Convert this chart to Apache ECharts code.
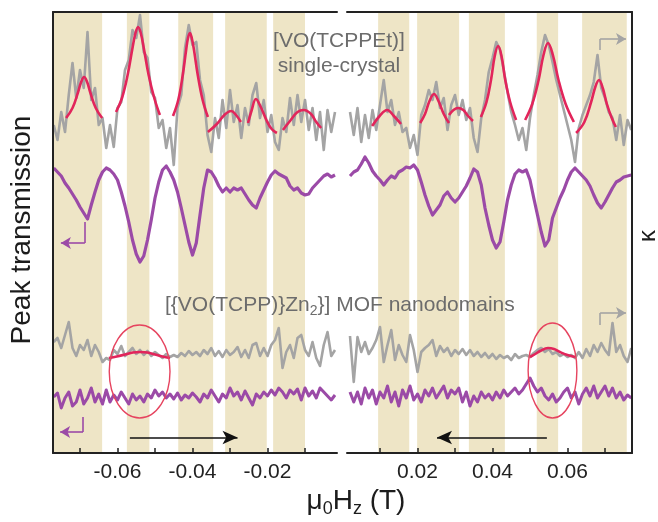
<!DOCTYPE html>
<html>
<head>
<meta charset="utf-8">
<script src="https://cdn.jsdelivr.net/npm/echarts@6/dist/echarts.min.js"></script>
<style>
html,body{margin:0;padding:0;background:#fff;}
#chart{width:658px;height:522px;}
</style>
</head>
<body>
<div id="chart"></div>
<script>
// field axis in mT (labels shown in T), y in arbitrary units
const fieldLeft = [-77,-76,-75,-74,-73,-72,-71,-70,-69,-68,-67,-66,-65,-64,-63,-62,-61,-60,-59,-58,
  -57,-56,-55,-54,-53,-52,-51,-50,-49,-48,-47,-46,-45,-44,-43,-42,-41,-40,-39,-38,
  -37,-36,-35,-34,-33,-32,-31,-30,-29,-28,-27,-26,-25,-24,-23,-22,-21,-20,-19,-18,
  -17,-16,-15,-14,-13,-12,-11,-10,-9,-8,-7,-6,-5,-4,-3,-2];
const fieldRight = [2,3,4,5,6,7,8,9,10,11,12,13,14,15,16,17,18,19,20,21,
  22,23,24,25,26,27,28,29,30,31,32,33,34,35,36,37,38,39,40,41,
  42,43,44,45,46,47,48,49,50,51,52,53,54,55,56,57,58,59,60,61,
  62,63,64,65,66,67,68,69,70,71,72,73,74,75,76,77];

// [VO(TCPPEt)] single crystal
const crystalTransLeft = [375,360,388,368,405,437,402,430,412,468,
  400,412,375,382,352,375,353,392,398,430,
  440,470,462,485,448,442,408,402,372,380,
  352,372,335,392,405,452,475,455,458,420,
  405,365,348,382,362,400,372,410,378,395,
  362,392,375,405,417,382,400,368,385,358,
  350,382,368,402,375,405,378,400,370,392,
  360,388,350,390,368,388];
const crystalTransRight = [388,365,392,358,385,362,390,370,395,420,
  388,400,375,388,368,372,352,365,345,385,
  395,410,400,418,392,402,370,395,405,385,
  400,380,392,362,348,382,400,428,442,458,
  450,430,408,388,375,360,372,350,382,405,
  425,448,465,455,438,420,405,390,375,360,
  338,372,385,395,405,418,445,412,402,388,
  382,360,385,355,380,370];
const crystalKappaLeft = [332,328,324,317,312,306,300,293,287,281,
  295,308,320,328,332,330,326,320,308,294,
  278,260,246,238,244,260,280,302,318,330,
  334,328,320,308,292,275,258,245,257,285,
  312,330,328,322,314,308,312,308,312,310,
  312,306,300,295,292,302,310,318,325,329,
  326,324,322,314,310,312,307,305,306,312,
  316,320,324,326,323,325];
const crystalKappaRight = [324,328,330,336,343,337,329,324,320,315,
  320,324,322,328,330,333,332,335,330,318,
  305,294,285,290,295,304,308,302,298,302,
  308,314,322,331,328,315,292,275,260,252,
  258,278,300,315,326,330,328,330,320,302,
  285,268,254,260,282,292,302,310,320,328,
  332,328,324,320,314,305,297,292,298,305,
  312,318,320,323,324,325];

// [{VO(TCPP)}Zn2}] MOF nanodomains
const mofTransLeft = [158,162,152,165,178,152,144,155,150,160,
  144,155,148,138,142,140,150,146,154,144,
  148,152,146,150,145,149,144,148,145,142,
  146,143,145,143,147,144,149,145,148,144,
  150,146,152,144,149,143,150,145,148,153,
  143,150,142,155,157,144,152,144,155,160,
  172,132,148,155,142,162,165,150,144,158,
  142,134,155,168,144,150];
const mofTransRight = [164,118,163,148,158,146,152,160,173,138,
  155,170,140,155,145,138,165,150,128,148,
  152,155,160,144,154,148,152,144,150,146,
  151,145,150,144,148,143,147,142,146,141,
  145,142,144,140,146,142,144,145,143,147,
  150,152,148,151,146,148,144,146,143,145,
  142,148,142,151,144,155,148,157,150,145,
  177,148,155,144,138,152];
const mofKappaLeft = [103,107,92,102,108,94,98,110,96,102,
  112,98,106,96,110,98,105,100,108,102,
  96,106,100,104,98,106,102,110,104,108,
  102,106,101,107,100,105,102,107,103,98,
  106,102,110,104,98,106,102,112,104,108,
  100,109,102,95,106,102,108,104,110,105,
  112,108,102,110,106,111,100,112,104,109,
  102,112,108,104,100,105];
const mofKappaRight = [108,98,108,96,112,102,110,96,108,102,
  114,98,108,94,110,102,114,100,106,98,
  110,104,112,102,108,114,102,110,106,112,
  98,108,94,104,98,108,102,106,100,108,
  102,110,104,108,112,106,110,116,122,114,
  108,112,104,100,106,98,102,108,112,102,
  108,96,106,112,104,114,102,108,114,104,
  112,102,108,100,105,102];

// fitted peaks [field, value]
const fitPeaksLeft = [
  [[-73.7,382],[-72.0,392],[-70.5,408],[-69.7,418],[-68.9,423],[-68.1,418],[-67.3,408],[-65.8,392],[-64.1,382]],
  [[-60.4,388],[-58.8,402],[-57.3,425],[-56.0,452],[-55.2,467],[-54.5,473],[-53.8,467],[-53.0,452],[-51.7,425],[-50.2,402],[-48.7,385]],
  [[-45.2,384],[-43.8,400],[-42.6,425],[-41.7,450],[-41.2,462],[-40.7,467],[-40.2,462],[-39.6,450],[-38.6,425],[-37.3,400],[-35.9,383]],
  [[-35.9,368],[-33.5,376],[-31.5,385],[-29.7,389],[-28.4,385],[-27.1,378]],
  [[-25.2,377],[-24.2,390],[-23.1,401],[-21.8,393],[-20.3,380],[-18.9,371],[-17.5,367]],
  [[-15.9,370],[-13.8,380],[-12.0,388],[-10.3,390],[-8.4,386],[-7.0,378],[-5.7,372]],
  [[-62.3,142],[-60.2,143.5],[-58.0,145.5],[-55.9,147.5],[-53.9,148],[-52.0,147.5],[-50.0,145.5],[-48.0,143.5],[-46.0,142]]
];
const fitPeaksRight = [
  [[7.9,374],[9.9,384],[11.9,390],[13.7,384],[15.6,376]],
  [[20.7,377],[22.0,386],[23.2,399],[24.4,406],[25.6,399],[27.0,386],[28.4,377]],
  [[28.4,385],[29.6,390],[30.8,392],[32.2,390],[33.5,384],[34.8,379]],
  [[36.9,383],[38.4,398],[39.6,420],[40.6,444],[41.5,454],[42.4,444],[43.4,420],[44.7,398],[46.3,380]],
  [[48.7,380],[50.6,396],[52.3,420],[53.6,445],[54.8,457],[56.1,445],[57.6,420],[59.5,396],[61.7,378]],
  [[62.3,367],[64.5,378],[66.3,398],[67.5,414],[68.4,420],[69.4,412],[70.5,396],[71.8,382],[72.9,373]],
  [[50.0,143],[51.4,146],[52.7,149],[54.8,152],[56.4,151],[58.0,148],[60.0,145],[62.0,143]]
];

// shaded field windows (mT)
const bandsLeft = [[-77.1,-64.1],[-57.5,-51.5],[-43.8,-34.5],[-31.3,-20.2],[-18.5,-10.0]];
const bandsRight = [[9.5,17.8],[19.9,31.1],[33.7,43.3],[51.8,57.5],[63.9,75.8]];

// annotations: ellipse [cx, cy, rx, ry], sweep arrows, axis markers
const circledLeft = [-54.1,128.5,8.1,46.5];
const circledRight = [56.0,129.5,6.5,47.5];
const sweepLeft = [[-56.7,62.5],[-28.0,62.5]];
const sweepRight = [[54.5,62.5],[25.2,62.5]];
const kappaMarkTop = [[-68.7,278],[-68.7,257],[-75.1,257]];
const kappaMarkBottom = [[-69.2,83],[-69.2,68],[-75.3,68]];
const transMarkTop = [[68.7,450],[68.7,461],[75.6,461]];
const transMarkBottom = [[68.7,175],[68.7,187],[75.6,187]];

const ticksLeft = [-70,-60,-50,-40,-30,-20,-10];
const ticksRight = [10,20,30,40,50,60,70];
const labelsLeft = [-60,-40,-20];
const labelsRight = [20,40,60];

const FONT = '"Liberation Sans", Arial, Helvetica, sans-serif';
const GRAY = '#a4a4a4';
const PURPLE = '#9b4aa7';
const RED = '#e2255b';
const TAN = '#eee5c6';
const INK = '#222';

const pairs = (xs, ys) => xs.map((x, i) => [x, ys[i]]);

const bottomAxis = (gridIndex, min, max, ticks, labels) => ({
  type: 'value', gridIndex, min, max, position: 'bottom', z: 10,
  splitLine: { show: false },
  axisLine: { show: true, onZero: false, lineStyle: { color: INK, width: 2 } },
  axisTick: { show: true, inside: true, length: 5, customValues: ticks, lineStyle: { color: INK, width: 1.5 } },
  axisLabel: { show: true, customValues: labels, formatter: (v) => (v / 1000).toFixed(2),
    color: INK, fontSize: 21, fontFamily: FONT, margin: 9 }
});
const topAxis = (gridIndex, min, max) => ({
  type: 'value', gridIndex, min, max, position: 'top', z: 10,
  splitLine: { show: false }, axisTick: { show: false }, axisLabel: { show: false },
  axisLine: { show: true, onZero: false, lineStyle: { color: INK, width: 2 } }
});
const sideAxis = (gridIndex, position) => ({
  type: 'value', gridIndex, min: 47, max: 488, position, z: 10,
  splitLine: { show: false }, axisTick: { show: false }, axisLabel: { show: false },
  axisLine: { show: true, onZero: false, lineStyle: { color: INK, width: 2 } }
});

const trace = (name, idx, data, color, width) => ({
  name, type: 'line', xAxisIndex: idx * 2, yAxisIndex: idx, data,
  showSymbol: false, symbol: 'none', z: 3, silent: true,
  lineStyle: { color, width, join: 'round' }
});

const bentArrow = (pts, color) => [
  [{ coord: pts[0], lineStyle: { color, width: 1.6, type: 'solid' } }, { coord: pts[1] }],
  [{ coord: pts[1], lineStyle: { color, width: 1.6, type: 'solid' } }, { coord: pts[2], symbol: 'arrow', symbolSize: [9, 10] }]
];
const markLines = (data) => ({
  silent: true, animation: false, symbol: ['none', 'none'], label: { show: false },
  lineStyle: { type: 'solid' }, emphasis: { disabled: true }, data
});

const ellipseSeries = (idx, ell) => ({
  type: 'custom', xAxisIndex: idx * 2, yAxisIndex: idx, z: 6, silent: true,
  data: [ell],
  renderItem: (params, api) => {
    const c = api.coord([api.value(0), api.value(1)]);
    const s = api.size([api.value(2), api.value(3)]);
    return { type: 'ellipse', shape: { cx: c[0], cy: c[1], rx: s[0], ry: s[1] },
      style: { fill: null, stroke: '#e6445f', lineWidth: 1.4 } };
  }
});

const panelSeries = (idx, field, bands, cT, cK, mT, mK, fits, ell, sweep, marks, markColor) => {
  const list = [];
  list.push({
    type: 'line', xAxisIndex: idx * 2, yAxisIndex: idx, data: [], z: 1, silent: true,
    markArea: { silent: true, itemStyle: { color: TAN }, data: bands.map((b) => [{ xAxis: b[0] }, { xAxis: b[1] }]) },
    markLine: markLines([[{ coord: sweep[0], lineStyle: { color: '#111', width: 1.6, type: 'solid' } },
      { coord: sweep[1], symbol: 'arrow', symbolSize: [10, 15] }]])
  });
  list.push(trace('trans', idx, pairs(field, cT), GRAY, 2.6));
  list.push(trace('kappa', idx, pairs(field, cK), PURPLE, 3.2));
  list.push(trace('mofTrans', idx, pairs(field, mT), GRAY, 2.6));
  list.push(trace('mofKappa', idx, pairs(field, mK), PURPLE, 3));
  fits.forEach((pk) => {
    const s = trace('fit', idx, pk, RED, 2.6);
    s.smooth = 0.4; s.z = 4;
    list.push(s);
  });
  list.push(ellipseSeries(idx, ell));
  list.push({
    type: 'line', xAxisIndex: idx * 2, yAxisIndex: idx, data: [], z: 5, silent: true,
    markLine: markLines(marks.flatMap((m) => bentArrow(m, markColor)))
  });
  return list;
};

const txt = (x, y, text, font, fill, extra) => ({
  type: 'text', x, y, z: 100, silent: true,
  style: Object.assign({ text, font, fill, align: 'center', verticalAlign: 'middle' }, extra || {})
});

const chart = echarts.init(document.getElementById('chart'), null, { renderer: 'canvas' });
chart.setOption({
  animation: false,
  backgroundColor: '#fff',
  grid: [
    { left: 53, top: 12, width: 284, height: 441, outerBoundsMode: 'none' },
    { left: 347, top: 12, width: 285, height: 441, outerBoundsMode: 'none' }
  ],
  xAxis: [
    bottomAxis(0, -77.2, -1.47, ticksLeft, labelsLeft),
    topAxis(0, -77.2, -1.47),
    bottomAxis(1, 1.2, 77.2, ticksRight, labelsRight),
    topAxis(1, 1.2, 77.2)
  ],
  yAxis: [sideAxis(0, 'left'), sideAxis(1, 'right')],
  series: [
    ...panelSeries(0, fieldLeft, bandsLeft, crystalTransLeft, crystalKappaLeft, mofTransLeft, mofKappaLeft,
      fitPeaksLeft, circledLeft, sweepLeft, [kappaMarkTop, kappaMarkBottom], PURPLE),
    ...panelSeries(1, fieldRight, bandsRight, crystalTransRight, crystalKappaRight, mofTransRight, mofKappaRight,
      fitPeaksRight, circledRight, sweepRight, [transMarkTop, transMarkBottom], GRAY)
  ],
  graphic: [
    Object.assign(txt(22, 230, 'Peak transmission', '28px ' + FONT, '#1c1c1c'), { rotation: Math.PI / 2 }),
    Object.assign(txt(648, 236, 'κ', '24px ' + FONT, '#1c1c1c'), { rotation: Math.PI / 2 }),
    txt(356, 501, 'μ{s|0}H{s|z} (T)', '28px ' + FONT, '#1c1c1c',
      { rich: { s: { fontSize: 18, fontFamily: FONT, fill: '#1c1c1c', padding: [16, 0, 0, 0], verticalAlign: 'bottom' } } }),
    txt(339, 41, '[VO(TCPPEt)]', '21px ' + FONT, '#6c6c6c'),
    txt(339, 66, 'single-crystal', '21px ' + FONT, '#6c6c6c'),
    txt(165, 305, '[{VO(TCPP)}Zn{s|2}}] MOF nanodomains', '21px ' + FONT, '#6c6c6c',
      { align: 'left', rich: { s: { fontSize: 14, fontFamily: FONT, fill: '#6c6c6c', padding: [12, 0, 0, 0], verticalAlign: 'bottom' } } })
  ]
});
</script>
</body>
</html>
